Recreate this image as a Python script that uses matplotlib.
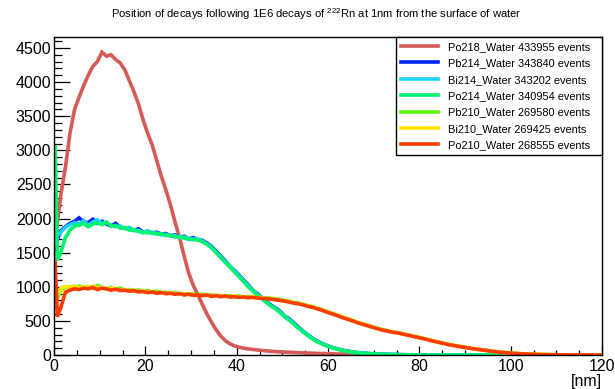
import numpy as np
import matplotlib
matplotlib.use("Agg")
import matplotlib.pyplot as plt

plt.rcParams['font.family'] = ['Liberation Sans', 'DejaVu Sans']
plt.rcParams['mathtext.fontset'] = 'custom'
plt.rcParams['mathtext.rm'] = 'Liberation Sans'
plt.rcParams['mathtext.default'] = 'regular'

# bins: two half-nm bins at the surface, then 1 nm bins up to 120 nm
edges = np.concatenate([[0.0, 0.5], np.arange(1, 121)])
centers = 0.5 * (edges[:-1] + edges[1:])
nbins = len(edges) - 1

po218 = [1300, 1950,
         2350, 2750, 3250, 3600, 3780, 3950, 4100, 4230, 4300, 4440,
         4380, 4400, 4330, 4280, 4180, 4020, 3860, 3680, 3450, 3250,
         3080, 2850, 2620, 2420, 2200, 1950, 1720, 1450, 1200, 1020,
         880, 740, 600, 480, 370, 280, 210, 165, 135, 115,
         100, 90, 82, 74, 66, 60, 55, 50, 46, 43,
         40, 37, 34, 31, 29, 27, 24, 22, 20, 18,
         16, 14, 12, 11, 9, 8, 7, 6, 5, 4,
         3, 3, 2, 2, 1, 1]
pb214 = [1550, 1700,
         1820, 1880, 1930, 1960, 2010, 1950, 1940, 1990, 1930, 1960,
         1920, 1890, 1930, 1870, 1860, 1850, 1830, 1850, 1800, 1810,
         1790, 1800, 1770, 1780, 1750, 1760, 1730, 1740, 1700, 1720,
         1690, 1680, 1640, 1590, 1520, 1450, 1380, 1300, 1240, 1170,
         1100, 1030, 950, 900, 840, 790, 730, 690, 640, 570,
         530, 470, 410, 350, 300, 250, 210, 175, 145, 120,
         100, 82, 66, 54, 44, 36, 29, 24, 19, 15,
         12, 10, 8, 6, 5, 4, 3, 3, 2, 2, 1, 1]
bi214 = [1600, 1750,
         1800, 1870, 1910, 1940, 1920, 1970, 1900, 1950, 1980, 1930,
         1940, 1900, 1880, 1890, 1850, 1870, 1820, 1830, 1790, 1820,
         1780, 1790, 1760, 1770, 1740, 1750, 1720, 1730, 1710, 1700,
         1700, 1670, 1630, 1580, 1510, 1440, 1370, 1310, 1230, 1160,
         1090, 1020, 950, 890, 830, 780, 720, 680, 630, 570,
         520, 460, 400, 345, 295, 245, 205, 172, 142, 118,
         97, 80, 64, 52, 42, 34, 28, 23, 18, 14,
         11, 9, 7, 6, 5, 4, 3, 2, 2, 1, 1]
po214 = [3050, 1390,
         1500, 1720, 1830, 1890, 1900, 1930, 1880, 1920, 1940, 1910,
         1950, 1890, 1900, 1860, 1870, 1830, 1840, 1810, 1800, 1790,
         1800, 1770, 1780, 1750, 1760, 1730, 1740, 1710, 1700, 1690,
         1690, 1660, 1620, 1570, 1500, 1430, 1360, 1290, 1220, 1150,
         1080, 1000, 940, 880, 830, 770, 720, 680, 620, 560,
         510, 455, 395, 340, 290, 240, 200, 168, 140, 115,
         95, 78, 62, 50, 40, 33, 27, 22, 18, 14,
         11, 9, 7, 6, 5, 4, 3, 3, 2, 2]
pb210 = [820, 830,
         950, 990, 1000, 980, 1010, 990, 1000, 980, 1020, 990,
         970, 990, 960, 980, 950, 960, 940, 955, 930, 945,
         920, 935, 915, 920, 905, 915, 895, 900, 890, 895,
         880, 890, 875, 880, 865, 875, 860, 870, 855, 865,
         850, 860, 845, 850, 840, 840, 830, 825, 815, 800,
         790, 770, 760, 745, 725, 710, 690, 670, 645, 620,
         600, 575, 550, 530, 505, 480, 460, 440, 420, 400,
         380, 365, 350, 335, 325, 310, 295, 280, 265, 250,
         235, 218, 200, 185, 170, 155, 143, 130, 120, 108,
         97, 87, 78, 70, 60, 52, 44, 38, 32, 27,
         22, 18, 15, 12, 10, 8, 6, 5, 4, 3,
         3, 2, 2, 1, 1, 1]
bi210 = [850, 880,
         980, 1000, 990, 1010, 980, 1000, 990, 1010, 980, 990,
         960, 980, 970, 950, 960, 940, 950, 930, 940, 920,
         930, 910, 920, 900, 910, 895, 900, 885, 895, 880,
         885, 870, 885, 865, 875, 860, 870, 850, 865, 850,
         855, 845, 850, 835, 840, 830, 825, 815, 805, 795,
         780, 765, 755, 740, 720, 705, 685, 665, 640, 615,
         595, 570, 545, 525, 500, 475, 455, 435, 415, 395,
         375, 360, 345, 332, 322, 307, 292, 277, 262, 248,
         232, 215, 198, 183, 168, 153, 141, 129, 118, 106,
         96, 86, 77, 69, 59, 51, 43, 37, 31, 26,
         21, 17, 14, 11, 9, 7, 6, 5, 4, 3,
         2, 2, 1, 1]
po210 = [1350, 560,
         700, 920, 950, 970, 960, 980, 970, 990, 960, 980,
         970, 950, 965, 945, 950, 935, 945, 925, 930, 915,
         925, 905, 915, 900, 905, 890, 900, 880, 890, 875,
         880, 870, 880, 860, 870, 855, 865, 850, 855, 845,
         850, 840, 845, 835, 830, 825, 820, 810, 800, 790,
         775, 760, 750, 735, 715, 700, 680, 660, 635, 612,
         590, 565, 542, 520, 497, 472, 452, 432, 412, 392,
         372, 358, 343, 330, 320, 305, 290, 275, 260, 246,
         230, 213, 197, 181, 166, 151, 140, 127, 117, 105,
         95, 85, 76, 68, 58, 50, 42, 36, 30, 25,
         21, 17, 14, 11, 9, 7, 6, 5, 4, 3,
         3, 2, 2, 1, 1, 1, 1]

labels = ["Po218_Water 433955 events", "Pb214_Water 343840 events",
          "Bi214_Water 343202 events", "Po214_Water 340954 events",
          "Pb210_Water 269580 events", "Bi210_Water 269425 events",
          "Po210_Water 268555 events"]
colors = ["#d65a55", "#0022ff", "#19d3ff", "#00f56e",
          "#5cf500", "#ffe600", "#ff3b00"]


def full(v):
    # bins past the end of each list are empty
    return np.array(v + [0] * (nbins - len(v)), dtype=float)


fig = plt.figure(figsize=(6.15, 3.89), dpi=100)
ax = fig.add_axes([54 / 615, 1 - 355 / 389, 548 / 615, 318 / 389])

for vals, c, lab in zip([po218, pb214, bi214, po214, pb210, bi210, po210], colors, labels):
    y = full(vals)
    # first bin drawn from the surface (x = 0), rest through bin centres
    x = np.concatenate([[0.0], centers])
    y = np.concatenate([[y[0]], y])
    ax.plot(x, y, color=c, lw=2.6, label=lab, solid_joinstyle='miter')

ax.set_xlim(0, 120)
ax.set_ylim(0, 4661)
ax.set_xticks(np.arange(0, 121, 20))
ax.set_xticks(np.arange(0, 121, 5), minor=True)
ax.set_yticks(np.arange(0, 4501, 500))
ax.set_yticks(np.arange(0, 4601, 100), minor=True)
ax.tick_params(axis='both', which='both', direction='in', labelsize=11.5, width=0.9)
ax.tick_params(axis='y', which='major', length=11.5, pad=2)
ax.tick_params(axis='y', which='minor', length=5.8)
ax.tick_params(axis='x', which='major', length=6.8, pad=3)
ax.tick_params(axis='x', which='minor', length=3.6)
for s in ax.spines.values():
    s.set_linewidth(1.0)

ax.set_xlabel("[nm]", loc='right', fontsize=11.5, labelpad=0)
fig.text(0.515, 1 - 14 / 389,
         "Position of decays following 1E6 decays of $^{222}$Rn at 1nm from the surface of water",
         ha='center', va='center', fontsize=8.1)

leg = ax.legend(loc='upper right', bbox_to_anchor=(342 / 548, 0.5, 206 / 548, 0.5),
                mode='expand', borderaxespad=0, fontsize=7.9, frameon=True,
                fancybox=False, edgecolor='black', framealpha=1,
                handlelength=3.4, handletextpad=0.9, labelspacing=0.58,
                borderpad=0.45)
leg.get_frame().set_linewidth(1.0)

fig.savefig("out.png", dpi=100)
